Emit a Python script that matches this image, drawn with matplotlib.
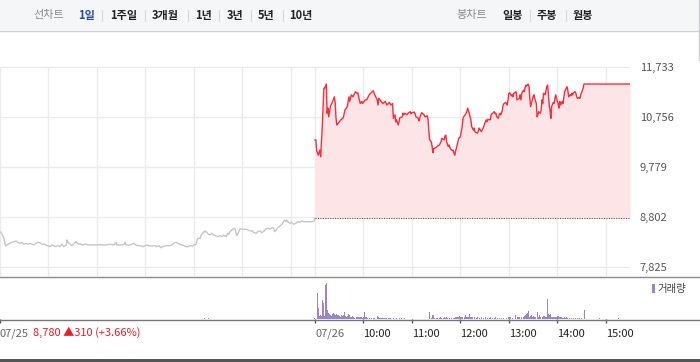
import numpy as np
import matplotlib
matplotlib.use('Agg')
from matplotlib import pyplot as plt
from matplotlib.patches import Rectangle
from matplotlib.lines import Line2D

plt.rcParams['font.family'] = ['Noto Sans CJK KR', 'DejaVu Sans']

# x axis: minutes since 09:00 on 07/25; 07/26 starts at 390
prev_close = 8780
y_ticks = [7825, 8802, 9779, 10756, 11733]
x_ticks = [0, 390, 450, 510, 570, 630, 690, 750]
x_labels = ['07/25', '07/26', '10:00', '11:00', '12:00', '13:00', '14:00', '15:00']

# 07/25 (grey)
d1_min = [0, 2, 5, 6, 7, 10, 12, 15, 17, 20, 22, 25, 27, 30, 32, 35, 37, 40, 42, 45,
          47, 50, 52, 54, 57, 59, 62, 64, 67, 69, 72, 74, 77, 79, 82, 83, 84, 87, 89, 92,
          94, 97, 99, 102, 105, 111, 118, 124, 130, 136, 141, 144, 145, 149, 154, 155, 156,
          161, 166, 168, 173, 177, 181, 186, 192, 194, 197, 199, 202, 206, 209, 213, 215,
          218, 220, 223, 225, 228, 230, 233, 235, 238, 240, 243, 244, 245, 248, 249, 251,
          253, 254, 255, 258, 260, 262, 265, 267, 270, 272, 275, 277, 280, 282, 283, 285,
          287, 290, 291, 292, 293, 295, 296, 297, 300, 302, 305, 307, 310, 312, 314, 317,
          319, 322, 324, 327, 329, 332, 334, 337, 339, 340, 342, 344, 347, 349, 352, 354,
          355, 357, 359, 361, 364, 366, 369, 371, 374, 376, 379, 381, 384, 386, 389, 390]
d1_price = [8515, 8484, 8386, 8288, 8241, 8269, 8288, 8308, 8319, 8333, 8308, 8288, 8308,
            8269, 8288, 8269, 8288, 8269, 8255, 8288, 8308, 8294, 8269, 8274, 8255, 8241,
            8222, 8255, 8241, 8222, 8241, 8222, 8269, 8222, 8255, 8353, 8308, 8269, 8241,
            8288, 8319, 8269, 8280, 8255, 8269, 8255, 8255, 8261, 8255, 8269, 8255, 8308,
            8255, 8255, 8269, 8308, 8255, 8255, 8288, 8255, 8241, 8222, 8255, 8235, 8241,
            8222, 8241, 8202, 8230, 8241, 8241, 8255, 8288, 8308, 8288, 8269, 8255, 8241,
            8222, 8222, 8241, 8235, 8255, 8269, 8353, 8386, 8386, 8450, 8484, 8528, 8503,
            8528, 8464, 8450, 8484, 8450, 8437, 8417, 8437, 8417, 8450, 8417, 8484, 8464,
            8515, 8548, 8581, 8568, 8503, 8437, 8484, 8534, 8568, 8568, 8562, 8562, 8548,
            8528, 8534, 8503, 8484, 8515, 8528, 8495, 8528, 8568, 8581, 8568, 8593, 8581,
            8515, 8548, 8593, 8632, 8659, 8743, 8710, 8743, 8698, 8679, 8698, 8659, 8679,
            8710, 8698, 8724, 8710, 8710, 8710, 8710, 8710, 8724, 8780]

# 07/26 (red), minutes since 09:00
d2_min = [0, 1, 2, 4, 6, 7, 9, 11, 12, 14, 15, 16, 17, 19, 21, 24, 25, 26, 27, 30, 32, 35,
          37, 40, 42, 43, 45, 47, 50, 52, 53, 54, 56, 58, 59, 62, 64, 67, 69, 72, 74, 77,
          78, 79, 82, 84, 87, 89, 92, 94, 96, 97, 99, 100, 101, 103, 104, 105, 108, 109,
          110, 111, 114, 115, 118, 119, 120, 123, 124, 125, 128, 129, 130, 132, 135, 136,
          139, 140, 141, 142, 144, 145, 146, 147, 150, 152, 154, 156, 157, 160, 161, 162,
          163, 165, 166, 167, 168, 170, 171, 172, 173, 174, 176, 177, 178, 180, 181, 182,
          183, 184, 186, 187, 188, 189, 191, 192, 193, 194, 196, 197, 198, 201, 202, 203,
          206, 207, 209, 210, 212, 213, 214, 217, 218, 220, 222, 223, 224, 225, 227, 228,
          229, 230, 232, 233, 234, 236, 238, 239, 240, 241, 243, 244, 245, 246, 249, 250,
          253, 254, 255, 256, 258, 259, 260, 261, 262, 264, 265, 266, 267, 269, 270, 271,
          272, 274, 275, 276, 277, 279, 280, 281, 282, 283, 285, 286, 287, 288, 290, 291,
          292, 293, 295, 296, 297, 298, 300, 301, 302, 303, 304, 306, 307, 308, 309, 311,
          312, 313, 314, 316, 317, 318, 319, 320, 322, 323, 324, 325, 327, 328, 329, 331,
          332, 333, 334, 390]
d2_price = [10310, 10310, 10110, 10010, 10110, 9980, 10570, 11320, 11320, 11400, 10830,
            10930, 10760, 10960, 11030, 11150, 11030, 10740, 10600, 10660, 10700, 10740,
            10890, 10960, 11150, 11060, 11190, 11150, 11250, 11220, 11230, 11150, 11020,
            11060, 11020, 11090, 11090, 11190, 11220, 11270, 11190, 11090, 10990, 11120,
            11060, 11020, 11060, 10990, 11040, 10990, 11020, 10730, 10800, 10660, 10700,
            10600, 10660, 10740, 10760, 10830, 10800, 10830, 10800, 10830, 10860, 10820,
            10840, 10850, 10820, 10760, 10730, 10680, 10760, 10840, 10800, 10760, 10780,
            10700, 10470, 10310, 10270, 10180, 10060, 10140, 10160, 10190, 10210, 10270,
            10340, 10310, 10390, 10400, 10270, 10180, 10210, 10160, 10130, 10100, 10110,
            10050, 10010, 10080, 10210, 10270, 10340, 10370, 10470, 10540, 10700, 10760,
            10800, 10830, 10860, 10930, 10830, 10760, 10700, 10570, 10500, 10540, 10470,
            10440, 10470, 10540, 10470, 10500, 10570, 10630, 10700, 10660, 10710, 10700,
            10800, 10830, 10860, 10820, 10830, 10760, 10730, 10800, 10830, 10800, 10890,
            10990, 11020, 11040, 10990, 11090, 11220, 11230, 11170, 11190, 11150, 11220,
            11250, 11090, 11120, 11190, 11090, 11220, 11280, 11250, 11320, 11380, 11360,
            11400, 11350, 11120, 10960, 11090, 11150, 11190, 11120, 11020, 10760, 10800,
            10860, 10830, 10890, 11090, 11020, 11220, 11190, 11280, 11350, 11380, 10990,
            10890, 10730, 10960, 11040, 11020, 11120, 11190, 11060, 11020, 10930, 11060,
            10990, 11060, 11020, 11120, 11250, 11320, 11350, 11280, 11150, 11190, 11170,
            11220, 11190, 11230, 11250, 11220, 11150, 11120, 11140, 11120, 11190, 11280,
            11320, 11400, 11400, 11400]

# volume (thousand shares), 07/26 minutes since 09:00
vol_min = [2, 4, 5, 6, 7, 9, 10, 11, 12, 14,
           15, 16, 17, 19, 20, 21, 22, 24, 25, 26,
           27, 28, 30, 31, 32, 33, 35, 36, 37, 38,
           40, 41, 42, 43, 45, 46, 47, 48, 51, 52,
           53, 54, 56, 57, 58, 59, 61, 62, 63, 64,
           67, 69, 72, 73, 77, 78, 79, 80, 82, 83,
           84, 85, 87, 88, 90, 92, 93, 97, 100, 104,
           106, 110, 141, 144, 145, 146, 147, 150, 151, 154,
           155, 156, 158, 160, 161, 162, 163, 166, 168, 171,
           172, 173, 175, 176, 177, 178, 180, 181, 182, 184,
           186, 187, 188, 189, 191, 192, 193, 194, 197, 199,
           201, 203, 206, 208, 210, 213, 215, 217, 219, 222,
           223, 225, 228, 230, 233, 236, 239, 240, 241, 244,
           248, 250, 251, 253, 255, 258, 259, 260, 261, 262,
           264, 265, 266, 267, 269, 270, 271, 272, 275, 276,
           277, 279, 281, 282, 283, 285, 286, 287, 288, 290,
           291, 292, 293, 295, 296, 297, 298, 300, 301, 302,
           303, 304, 306, 307, 308, 309, 311, 312, 314, 317,
           319, 322, 324, 327, 329, 333, 352, 375]
vol_k = [260, 110, 30, 40, 30, 190, 160, 30, 340, 360,
         90, 60, 50, 40, 30, 50, 60, 50, 40, 50,
         40, 40, 30, 20, 40, 30, 40, 70, 30, 20,
         30, 50, 40, 20, 20, 30, 20, 10, 15, 20,
         15, 15, 20, 20, 10, 15, 70, 20, 15, 10,
         10, 10, 10, 10, 30, 20, 10, 10, 10, 10,
         10, 10, 10, 10, 10, 10, 10, 5, 10, 5,
         10, 5, 70, 10, 40, 40, 10, 10, 10, 10,
         15, 10, 10, 15, 10, 15, 10, 10, 10, 10,
         10, 15, 20, 20, 20, 25, 20, 20, 20, 20,
         40, 20, 15, 20, 50, 20, 20, 15, 15, 10,
         15, 10, 15, 10, 15, 10, 10, 15, 10, 10,
         15, 10, 10, 10, 10, 10, 20, 20, 15, 10,
         40, 20, 15, 15, 15, 20, 25, 40, 50, 60,
         80, 20, 30, 40, 20, 30, 20, 15, 70, 20,
         40, 20, 20, 25, 30, 20, 15, 200, 50, 40,
         50, 20, 20, 20, 15, 15, 20, 30, 25, 20,
         15, 15, 10, 10, 15, 10, 15, 10, 10, 10,
         10, 10, 10, 10, 10, 90, 5, 5]
# a few tiny 07/25 bars (minutes since 09:00 on 07/25)
vol1_min = [253, 258, 389]
vol1_k = [5, 5, 5]


def main():
    fig = plt.figure(figsize=(7, 3.62), dpi=100)
    W, H = 700, 362

    # top menu bar
    fig.patches.append(Rectangle((0, 1 - 30 / H), 1, 30 / H, transform=fig.transFigure,
                                 facecolor='#f5f6f8', edgecolor='none'))
    fig.add_artist(Line2D([0, 1], [1 - 30.5 / H] * 2, transform=fig.transFigure,
                          color='#cfd0d3', lw=1))
    fig.add_artist(Line2D([698.5 / W] * 2, [1, 1 - 60 / H], transform=fig.transFigure,
                          color='#cfd0d3', lw=1))
    menu = [(33, '선차트', '#888888', 'normal'), (78, '1일', '#2b4aa6', 'bold'),
            (110, '1주일', '#222222', 'bold'), (152, '3개월', '#222222', 'bold'),
            (195, '1년', '#222222', 'bold'), (227, '3년', '#222222', 'bold'),
            (258, '5년', '#222222', 'bold'), (289, '10년', '#222222', 'bold'),
            (456, '봉차트', '#888888', 'normal'), (502, '일봉', '#222222', 'bold'),
            (537, '주봉', '#222222', 'bold'), (573, '월봉', '#222222', 'bold')]
    for x, s, c, w in menu:
        fig.text(x / W, 1 - 15 / H, s, color=c, fontsize=8, fontweight=w, ha='left', va='center')
    for x in [102, 145, 188, 219, 251, 283, 530, 566]:
        fig.add_artist(Line2D([x / W] * 2, [1 - 10 / H, 1 - 21 / H], transform=fig.transFigure,
                              color='#d8d8d8', lw=0.8))

    # price panel
    ax = fig.add_axes([0, 1 - 276 / H, 630 / W, (276 - 60) / H])
    ax.set_xlim(0, 780)
    ax.set_ylim(7649, 11870)
    grid_x = [0, 60, 120, 180, 240, 300, 360, 390, 450, 510, 570, 630, 690, 750]
    ax.hlines(y_ticks, 0, 780, color='#ebebeb', lw=1, zorder=0)
    ax.vlines(grid_x, 7649, 11733, color='#ebebeb', lw=1, zorder=0)

    ax.plot(d1_min, d1_price, color='#c6c6ca', lw=1)
    d2_x = np.array(d2_min) + 390
    ax.fill_between(d2_x, d2_price, prev_close, color='#fde5e7', lw=0, zorder=1)
    ax.plot(d2_x, d2_price, color='#ff2a38', lw=1, zorder=3)
    ax.hlines(prev_close, 390, 780, color='#555555', linestyles=(0, (1, 1.2)), lw=0.8, zorder=4)

    ax.yaxis.tick_right()
    ax.set_yticks(y_ticks)
    ax.set_yticklabels([f'{v:,}' for v in y_ticks])
    ax.tick_params(axis='y', length=0, pad=7, labelsize=8, labelcolor='#555555')
    ax.set_xticks([])
    for s in ax.spines.values():
        s.set_visible(False)

    # volume panel
    vax = fig.add_axes([0, 1 - 319 / H, 630 / W, 43 / H])
    vax.set_xlim(0, 780)
    vax.set_ylim(0, 360 * 43 / 36.3)
    vax.bar(np.array(vol_min) + 390, vol_k, width=1.25, color='#9a86c6', lw=0, align='edge')
    vax.bar(vol1_min, vol1_k, width=1.25, color='#9a86c6', lw=0, align='edge')
    vax.set_yticks([])
    vax.set_xticks(x_ticks)
    vax.set_xticklabels(x_labels)
    vax.tick_params(axis='x', length=3, width=1, color='#555555', pad=4, labelsize=8)
    for lbl in vax.get_xticklabels():
        lbl.set_ha('left')
        lbl.set_color('#666666' if '/' in lbl.get_text() else '#222222')
    for s in vax.spines.values():
        s.set_visible(False)

    fig.add_artist(Line2D([0, 1], [1 - 276.5 / H] * 2, transform=fig.transFigure,
                          color='#8a8a8a', lw=1))
    fig.add_artist(Line2D([0, 1], [1 - 319.5 / H] * 2, transform=fig.transFigure,
                          color='#777777', lw=1))
    fig.patches.append(Rectangle((0, 0), 1, 2.6 / H, transform=fig.transFigure,
                                 facecolor='#555555', edgecolor='none'))

    fig.patches.append(Rectangle((652 / W, 1 - 293 / H), 3 / W, 9 / H, transform=fig.transFigure,
                                 facecolor='#9a86c6', edgecolor='none'))
    fig.text(657 / W, 1 - 289 / H, '거래량', fontsize=7.5, color='#444444', ha='left', va='center')
    fig.text(33 / W, 1 - 332 / H, '8,780 ▲310 (+3.66%)', fontsize=8, color='#ee1c25',
             ha='left', va='center')

    fig.savefig('out.png', dpi=100)


if __name__ == '__main__':
    main()
